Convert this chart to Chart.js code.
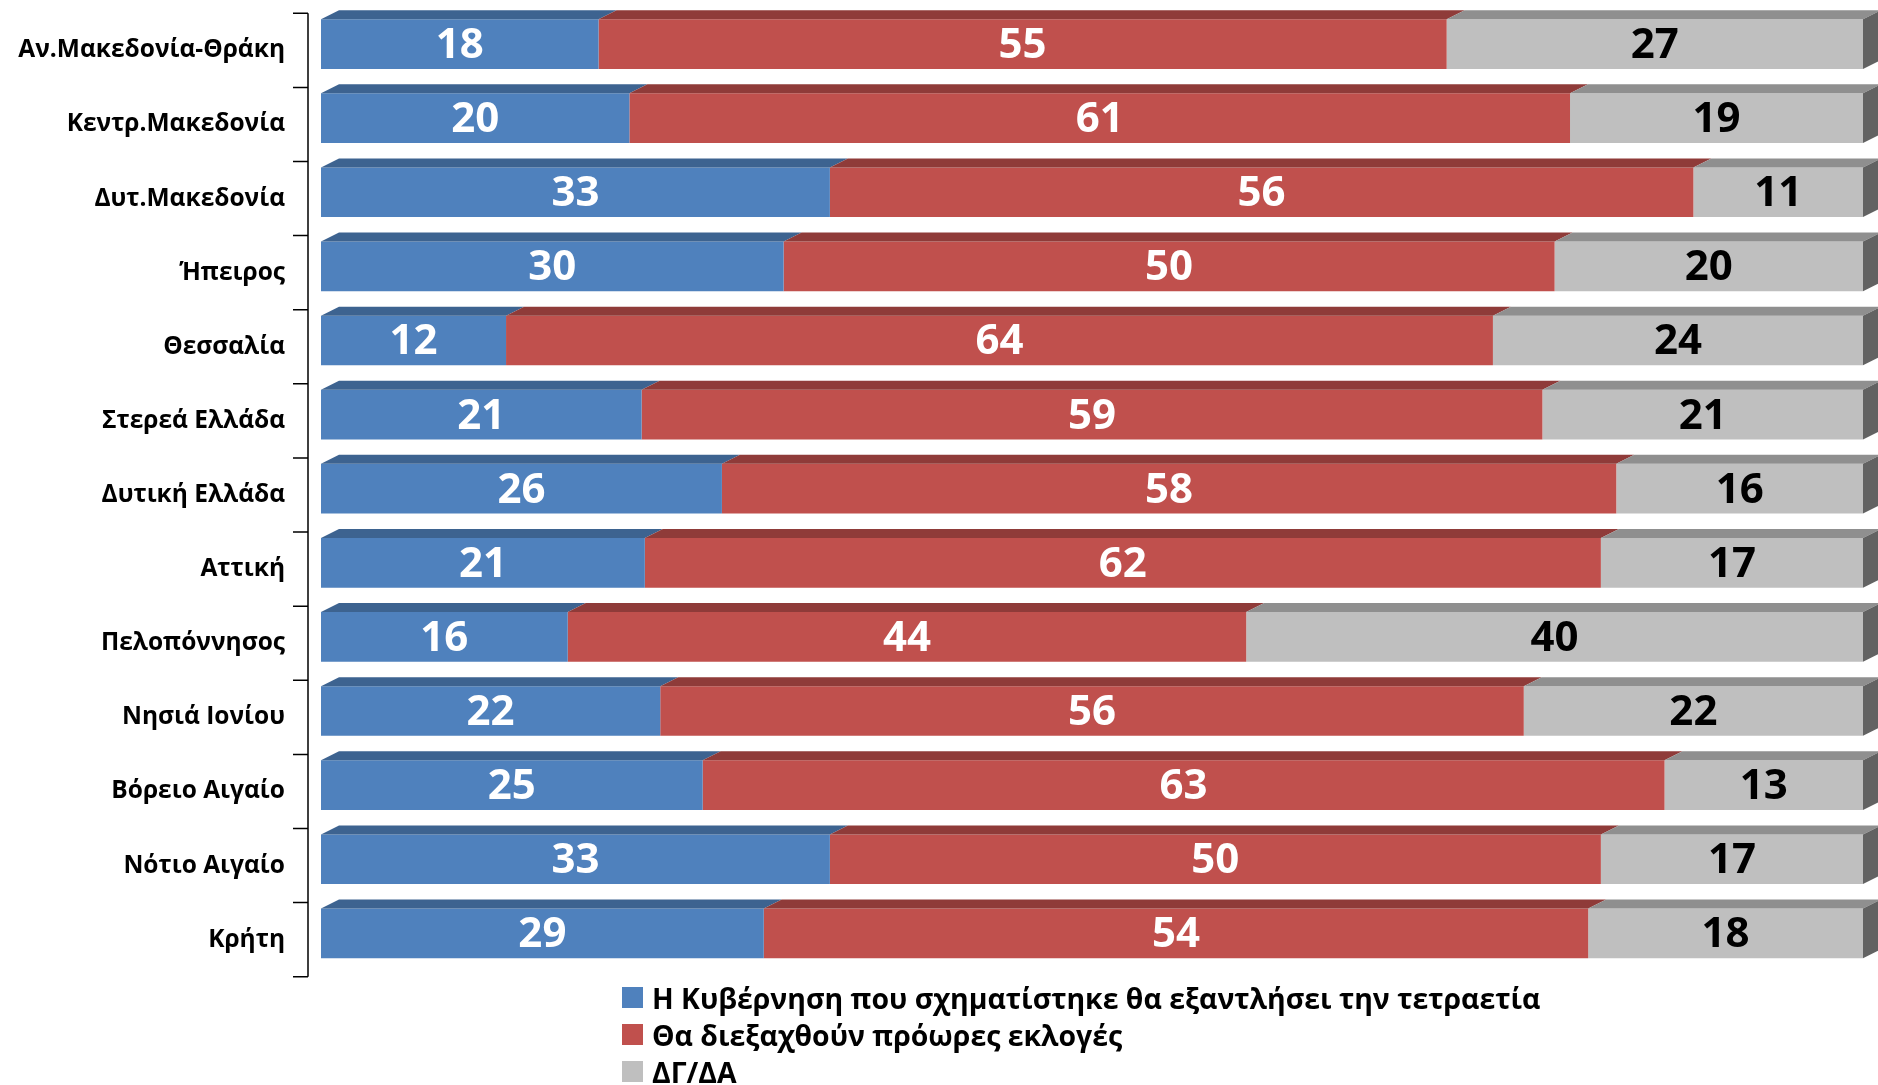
<!DOCTYPE html>
<html>
<head>
<meta charset="utf-8">
<script src="https://cdn.jsdelivr.net/npm/chart.js@4.4.1/dist/chart.umd.min.js"></script>
<style>
  html, body { margin: 0; padding: 0; background: #ffffff; }
  #wrap { position: relative; width: 1878px; height: 1085px; overflow: hidden; }
  #c { position: absolute; left: 0; top: 0; }
  #legend { position: absolute; left: 622px; top: 979px; font-family: "Open Sans", "Noto Sans", sans-serif; font-weight: 700; font-size: 28.4px; color: #000; }
  .li { height: 37px; display: flex; align-items: center; white-space: nowrap; }
  .sw { width: 21px; height: 21px; margin-right: 9px; flex: none; }
</style>
</head>
<body>
<div id="wrap">
  <canvas id="c" width="1878" height="1085"></canvas>
  <div id="legend"></div>
</div>
<script>
const categories = [
  "Αν.Μακεδονία-Θράκη", "Κεντρ.Μακεδονία", "Δυτ.Μακεδονία", "Ήπειρος", "Θεσσαλία",
  "Στερεά Ελλάδα", "Δυτική Ελλάδα", "Αττική", "Πελοπόννησος", "Νησιά Ιονίου",
  "Βόρειο Αιγαίο", "Νότιο Αιγαίο", "Κρήτη"
];
const seriesNames = [
  "Η Κυβέρνηση που σχηματίστηκε θα εξαντλήσει την τετραετία",
  "Θα διεξαχθούν πρόωρες εκλογές",
  "ΔΓ/ΔΑ"
];
const governmentFullTerm = [18, 20, 33, 30, 12, 21, 26, 21, 16, 22, 25, 33, 29];
const earlyElections     = [55, 61, 56, 50, 64, 59, 58, 62, 44, 56, 63, 50, 54];
const dontKnow           = [27, 19, 11, 20, 24, 21, 16, 17, 40, 22, 13, 17, 18];

const frontColors = ["#4F81BD", "#C0504D", "#BFBFBF"];
const topColors   = ["#3D6390", "#8F3B39", "#8F8F8F"];
const sideColor   = "#626262";
const labelColors = ["#FFFFFF", "#FFFFFF", "#000000"];

const rawSeries = [governmentFullTerm, earlyElections, dontKnow];
const totals = categories.map((_, i) => rawSeries.reduce((s, arr) => s + arr[i], 0));

const DX = 18, DY = 9, SHIFT = -6.3;
const FONT = '"Open Sans", "Noto Sans", sans-serif';

const bar3d = {
  id: 'bar3d',
  beforeDatasetsDraw(chart) {
    chart.ctx.save();
    chart.ctx.translate(0, SHIFT);
  },
  afterDatasetsDraw(chart) {
    const ctx = chart.ctx;
    const n = chart.data.datasets.length;
    chart.data.datasets.forEach((ds, di) => {
      const meta = chart.getDatasetMeta(di);
      meta.data.forEach((el) => {
        const p = el.getProps(['x', 'base', 'y', 'height'], true);
        const left = Math.min(p.x, p.base), right = Math.max(p.x, p.base);
        const top = p.y - p.height / 2, bottom = p.y + p.height / 2;
        ctx.fillStyle = topColors[di];
        ctx.beginPath();
        ctx.moveTo(left, top);
        ctx.lineTo(right, top);
        ctx.lineTo(right + DX, top - DY);
        ctx.lineTo(left + DX, top - DY);
        ctx.closePath();
        ctx.fill();
        if (di === n - 1) {
          ctx.fillStyle = sideColor;
          ctx.beginPath();
          ctx.moveTo(right, top);
          ctx.lineTo(right + DX, top - DY);
          ctx.lineTo(right + DX, bottom - DY);
          ctx.lineTo(right, bottom);
          ctx.closePath();
          ctx.fill();
        }
      });
    });
    ctx.font = '700 42px ' + FONT;
    ctx.textAlign = 'center';
    ctx.textBaseline = 'middle';
    chart.data.datasets.forEach((ds, di) => {
      const meta = chart.getDatasetMeta(di);
      meta.data.forEach((el, i) => {
        const p = el.getProps(['x', 'base', 'y'], true);
        ctx.fillStyle = labelColors[di];
        ctx.fillText(String(rawSeries[di][i]), (p.x + p.base) / 2, p.y + 2);
      });
    });
    ctx.restore();
  },
  afterDraw(chart) {
    const ctx = chart.ctx;
    const axisX = 308;
    ctx.save();
    ctx.strokeStyle = '#000000';
    ctx.lineWidth = 1.5;
    ctx.beginPath();
    ctx.moveTo(axisX, chart.chartArea.top);
    ctx.lineTo(axisX, chart.chartArea.bottom);
    const step = (chart.chartArea.bottom - chart.chartArea.top) / categories.length;
    for (let k = 0; k <= categories.length; k++) {
      const ty = chart.chartArea.top + k * step;
      ctx.moveTo(axisX - 15, ty);
      ctx.lineTo(axisX, ty);
    }
    ctx.stroke();
    ctx.restore();
  }
};

const datasets = rawSeries.map((arr, di) => ({
  label: seriesNames[di],
  data: arr.map((v, i) => v / totals[i] * 100),
  backgroundColor: frontColors[di],
  borderWidth: 0,
  barPercentage: 0.67,
  categoryPercentage: 1.0
}));

new Chart(document.getElementById('c'), {
  type: 'bar',
  data: { labels: categories, datasets },
  options: {
    indexAxis: 'y',
    responsive: false,
    animation: false,
    layout: { padding: { left: 0, top: 13.3, right: 15, bottom: 108.3 } },
    plugins: { legend: { display: false }, tooltip: { enabled: false } },
    scales: {
      x: { stacked: true, min: 0, max: 100, display: false },
      y: {
        stacked: true,
        grid: { display: false, drawTicks: false },
        border: { display: false },
        afterFit(scale) { scale.width = 321; scale.paddingTop = 0; scale.paddingBottom = 0; },
        ticks: { color: '#000000', padding: 36, font: { family: FONT, weight: '700', size: 24.5 } }
      }
    }
  },
  plugins: [bar3d]
});

const legend = document.getElementById('legend');
seriesNames.forEach((name, di) => {
  const row = document.createElement('div');
  row.className = 'li';
  const sw = document.createElement('span');
  sw.className = 'sw';
  sw.style.background = frontColors[di];
  const t = document.createElement('span');
  t.textContent = name;
  row.appendChild(sw);
  row.appendChild(t);
  legend.appendChild(row);
});
</script>
</body>
</html>
